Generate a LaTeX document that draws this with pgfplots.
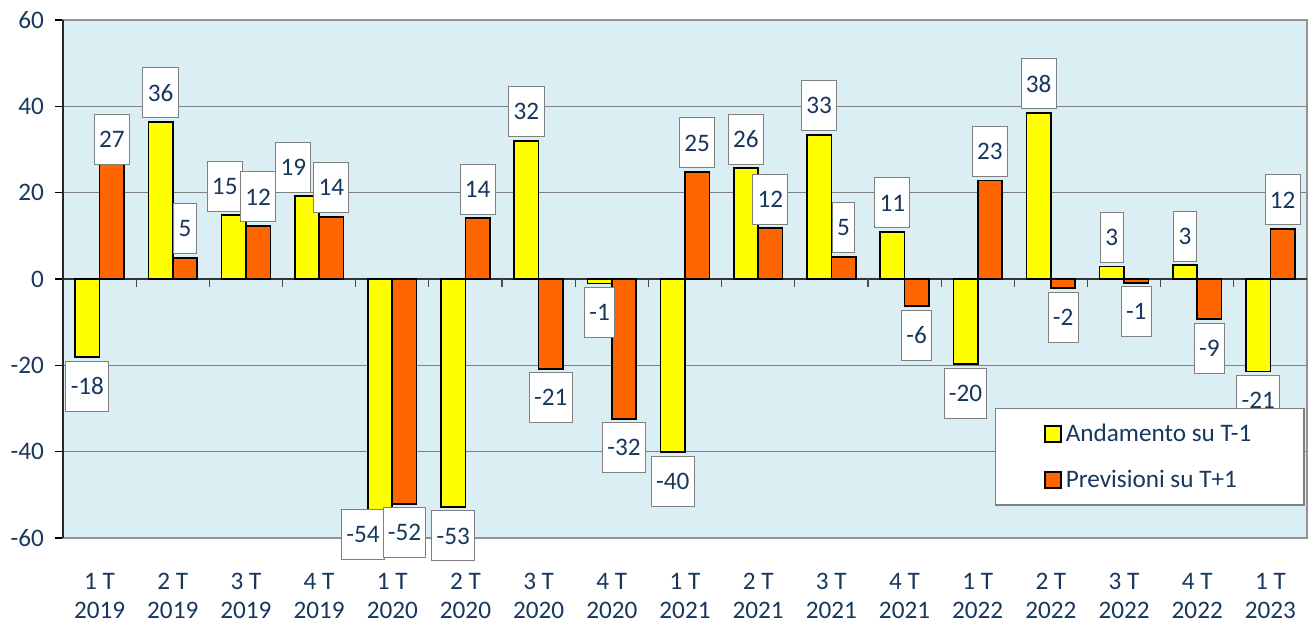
\documentclass[border=0pt]{standalone}
\usepackage{fontspec}
\setmainfont{Carlito}
\usepackage{pgfplots}
\usepackage{pgfplotstable}
\pgfplotsset{compat=1.18}

\definecolor{bgblue}{HTML}{DAEEF3}
\definecolor{navy}{HTML}{17375E}
\definecolor{barY}{HTML}{FFFF00}
\definecolor{barO}{HTML}{FF6600}
\definecolor{gridgray}{HTML}{808080}
\newcommand\lbl{\fontsize{12.6}{14.6}\selectfont}

% x = quarter index, y = value, label = shown text,
% dx/dy = label box offset in pt (box sits above the bar end; -29 puts it below)
\pgfplotstableread{
x  y      label dx    dy
0  -18.1  -18   0     -29
1  36.4   36    0     0
2  14.8   15    -4.5  0
3  19.2   19    -6.75 0
4  -54.0  -54   -8.5  -25.5
5  -52.8  -53   0     -29
6  32.0   32    0     0
7  -1.0   -1    0     -29
8  -40.1  -40   0     -29
9  25.7   26    0     0
10 33.4   33    0     0
11 10.9   11    0     0
12 -19.7  -20   0     -29
13 38.5   38    0     0
14 2.9    3     0     0
15 3.2    3     0     0
16 -21.4  -21   0     -29
}\andamento

\pgfplotstableread{
x  y      label dx    dy
0  27.0   27    0     -3
1  4.9    5     0     0
2  12.3   12    0     0
3  14.4   14    0     0
4  -52.1  -52   0     -29
5  14.1   14    0     0
6  -20.8  -21   0     -29
7  -32.4  -32   0     -29
8  24.8   25    0     0
9  11.8   12    0     0
10 5.1    5     0     0
11 -6.3   -6    0     -29
12 22.8   23    0     0
13 -2.1   -2    0     -29
14 -0.9   -1    0     -29
15 -9.3   -9    0     -29
16 11.6   12    0     0
}\previsioni

\pgfplotsset{
  sqlegend/.style={legend image code/.code={%
    \draw[##1,draw=black,line width=0.8pt] (0pt,-4pt) rectangle (8pt,4pt);}},
  labelplot/.style={ybar, bar width=0.3333, bar shift=0, draw=none, fill=none,
    forget plot, point meta=explicit symbolic, nodes near coords,
    visualization depends on={\thisrow{dx}\as\lblx},
    visualization depends on={\thisrow{dy}\as\lbly},
    nodes near coords style={labelbox, anchor=south,
      xshift=\lblx*1pt, yshift=\lbly*1pt}},
}
\tikzset{
  labelbox/.style={draw=gridgray, line width=0.5pt, fill=white, text=navy,
    font=\lbl, inner xsep=2.4pt, inner ysep=0pt, minimum height=25pt,
    outer ysep=2pt},
}

\begin{document}
\begin{tikzpicture}
\useasboundingbox (-31.5pt,-43pt) rectangle (624.5pt,269pt);
\begin{axis}[
  at={(0,0)}, anchor=south west,
  scale only axis, width=622pt, height=259pt,
  xmin=-0.5, xmax=16.5, ymin=-60, ymax=60,
  clip=false,
  axis background/.style={fill=bgblue},
  axis line style={draw=gridgray!85, line width=0.75pt},
  ytick={-60,-40,...,60},
  yticklabels={-60,-40,-20,0,20,40,60},
  ytick pos=left, tick align=outside, major tick length=4pt,
  ytick style={black, line width=0.6pt},
  ymajorgrids, grid style={gridgray, line width=0.6pt},
  xtick={0,...,16},
  xticklabels={{1 T\\2019},{2 T\\2019},{3 T\\2019},{4 T\\2019},
    {1 T\\2020},{2 T\\2020},{3 T\\2020},{4 T\\2020},
    {1 T\\2021},{2 T\\2021},{3 T\\2021},{4 T\\2021},
    {1 T\\2022},{2 T\\2022},{3 T\\2022},{4 T\\2022},{1 T\\2023}},
  major x tick style={draw=none},
  xticklabel style={align=center, font=\lbl, text=navy, yshift=-10pt},
  yticklabel style={font=\lbl, text=navy, xshift=-2pt},
  legend cell align=left,
  legend style={at={(0.998,0.251)}, anchor=north east,
    draw=gridgray, fill=white, line width=0.6pt,
    inner xsep=24.25pt, inner ysep=5.5pt, row sep=8.8pt,
    font=\lbl, nodes={text=navy},
    /tikz/every even column/.append style={column sep=5pt}},
]
% zero line and category ticks
\draw[black!80, line width=0.8pt] (axis cs:-0.5,0) -- (axis cs:16.5,0);
\pgfplotsinvokeforeach{0.5,1.5,...,15.5}{
  \draw[black!70, line width=0.6pt] (axis cs:#1,0) -- ++(0pt,-4pt);
}

\addplot[ybar, bar width=0.3333, bar shift=-0.16667, fill=barY, draw=black,
  line width=0.8pt, sqlegend] table[x=x,y=y] {\andamento};
\addlegendentry{Andamento su T-1}
\addplot[ybar, bar width=0.3333, bar shift=0.16667, fill=barO, draw=black,
  line width=0.8pt, sqlegend] table[x=x,y=y] {\previsioni};
\addlegendentry{Previsioni su T+1}

% data labels on top of both series, centred on their bars
\addplot[labelplot] table[x expr=\thisrow{x}-0.16667,y=y,meta=label] {\andamento};
\addplot[labelplot] table[x expr=\thisrow{x}+0.16667,y=y,meta=label] {\previsioni};

\draw[black!85, line width=0.8pt] (axis cs:-0.5,-60) -- (axis cs:-0.5,60);
\end{axis}
\end{tikzpicture}
\end{document}
